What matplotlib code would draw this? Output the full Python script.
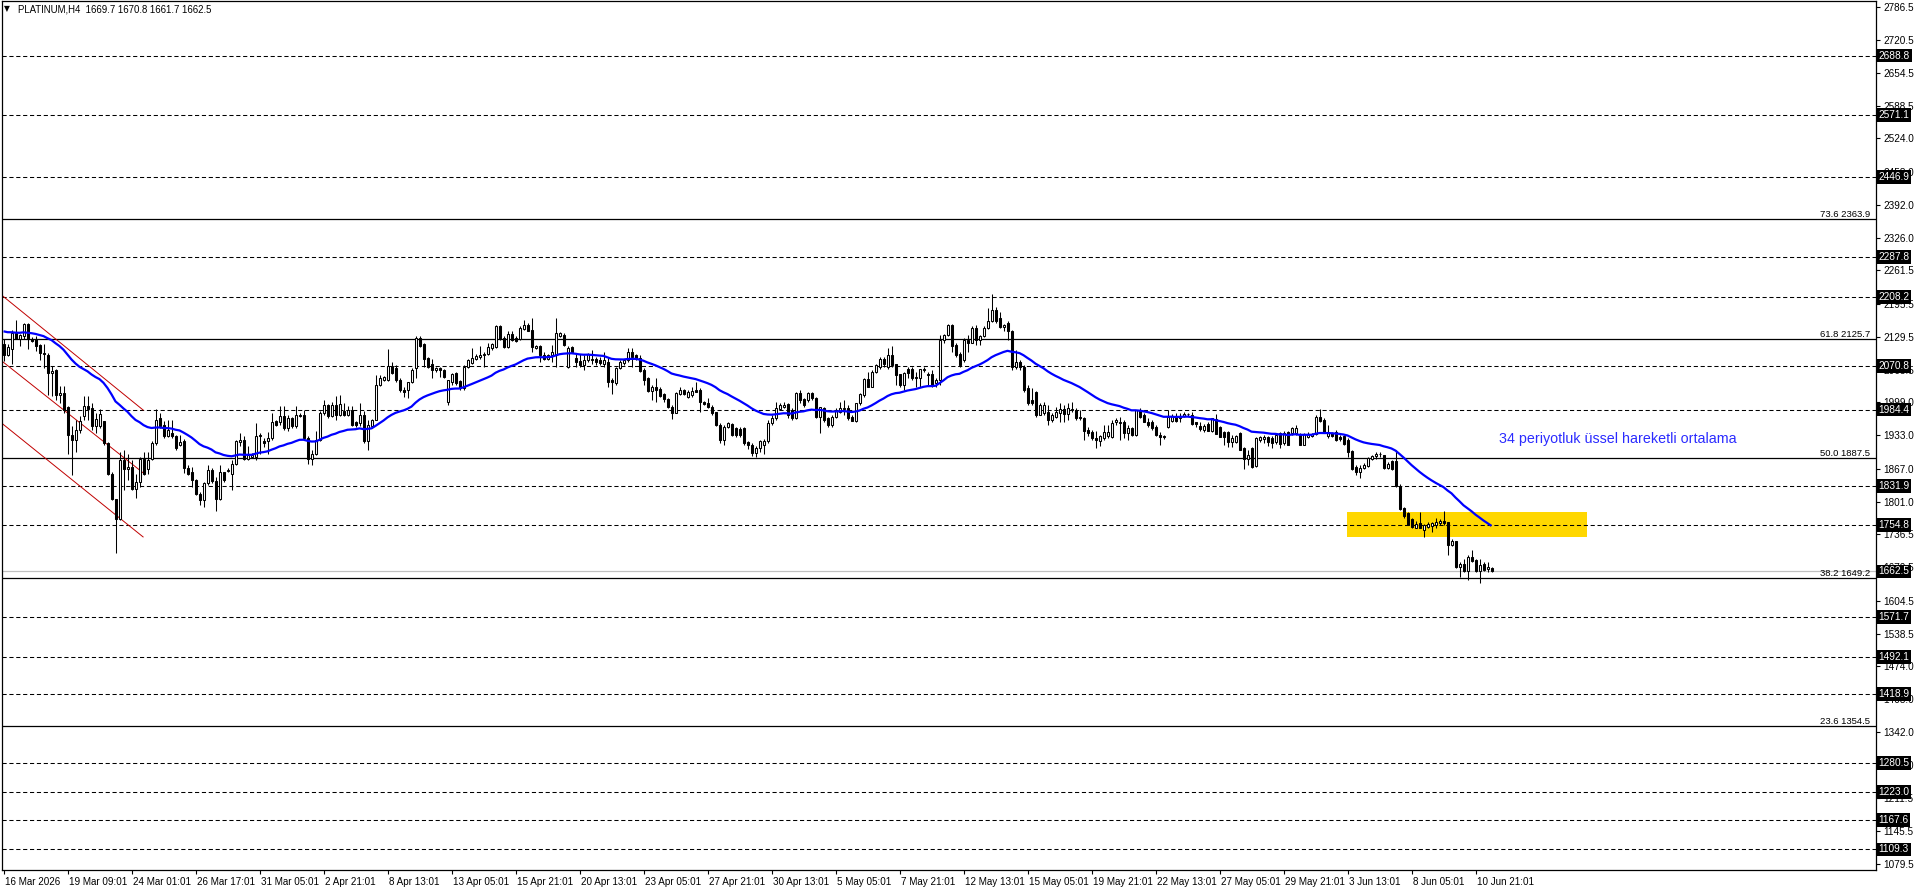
import numpy as np
import pandas as pd
import matplotlib
matplotlib.use("Agg")
import matplotlib.pyplot as plt
import matplotlib.transforms as mtransforms

# ---------------- data ----------------
opens = [
    2114,2094,2104,2136,2125,2131,2154,2125,2124,2112,
    2097,2094,2057,2063,2014,2017,1989,1934,1924,1944,
    1971,1991,1987,1952,1951,1961,1917,1857,1807,1767,
    1884,1866,1871,1827,1841,1886,1867,1886,1917,1967,
    1954,1931,1937,1932,1914,1921,1869,1861,1844,1817,
    1804,1839,1865,1843,1807,1861,1863,1857,1876,1919,
    1924,1887,1891,1891,1931,1921,1921,1927,1961,1959,
    1972,1947,1967,1951,1974,1974,1927,1887,1897,1924,
    1977,1994,1971,1994,1974,1981,1974,1984,1959,1957,
    1974,1921,1951,1964,2034,2044,2044,2071,2068,2044,
    2023,2023,2039,2067,2126,2114,2088,2076,2063,2067,
    2063,2000,2040,2057,2041,2027,2070,2078,2086,2090,
    2093,2096,2106,2108,2151,2126,2108,2134,2126,2125,
    2145,2153,2143,2106,2110,2093,2086,2093,2093,2130,
    2133,2070,2108,2088,2081,2073,2083,2083,2085,2083,
    2076,2080,2043,2037,2068,2078,2083,2100,2093,2088,
    2063,2048,2021,2030,2025,2015,2006,1990,1977,2015,
    2023,2010,2014,2023,2023,2000,1997,1990,1979,1954,
    1924,1950,1955,1948,1946,1948,1919,1914,1898,1908,
    1914,1921,1957,1967,1986,1990,1995,1984,1967,2017,
    2006,2004,2017,2007,1970,1988,1967,1954,1970,1980,
    1985,1988,1970,1962,1997,2013,2045,2030,2059,2070,
    2085,2070,2094,2075,2055,2033,2066,2066,2047,2047,
    2063,2056,2056,2037,2043,2123,2133,2152,2113,2096,
    2083,2123,2116,2146,2123,2130,2146,2160,2183,2166,
    2148,2156,2140,2070,2080,2070,2027,2004,2020,1974,
    1977,1980,1964,1970,1977,1985,1975,1983,1984,1970,
    1967,1944,1940,1927,1922,1927,1931,1929,1960,1957,
    1960,1937,1947,1934,1984,1974,1960,1960,1950,1934,
    1932,1949,1962,1972,1968,1972,1975,1974,1960,1952,
    1944,1955,1942,1966,1950,1940,1940,1919,1920,1937,
    1907,1887,1907,1873,1924,1926,1929,1927,1920,1937,
    1917,1940,1937,1937,1935,1914,1930,1932,1935,1970,
    1964,1932,1937,1939,1930,1932,1924,1902,1871,1860,
    1869,1873,1887,1893,1897,1894,1869,1882,1882,1833,
    1789,1778,1767,1749,1758,1745,1751,1753,1755,1758,
    1763,1760,1714,1722,1672,1678,1663,1692,1685,1663,
    1678,1667,1669.7,
]
highs = [
    2124,2114,2143,2162,2134,2157,2157,2128,2131,2115,
    2114,2097,2071,2066,2031,2031,1991,1951,1964,1971,
    2011,2011,1997,1977,1985,1962,1919,1861,1807,1901,
    1904,1897,1884,1857,1891,1901,1901,1921,1985,1977,
    1961,1964,1964,1934,1934,1926,1874,1871,1847,1821,
    1841,1874,1868,1850,1874,1861,1868,1884,1924,1937,
    1931,1911,1898,1957,1937,1927,1939,1977,1964,1991,
    1991,1974,1970,1991,1977,1984,1931,1904,1941,1981,
    2004,1996,1999,2011,2014,1998,1991,1991,1962,1997,
    1981,1964,1966,2054,2054,2052,2104,2080,2074,2047,
    2030,2040,2067,2130,2130,2116,2090,2086,2070,2070,
    2065,2043,2057,2060,2043,2073,2086,2106,2096,2110,
    2100,2116,2116,2153,2153,2130,2140,2140,2130,2150,
    2163,2156,2166,2112,2113,2100,2096,2113,2166,2138,
    2136,2110,2110,2096,2096,2093,2098,2103,2090,2090,
    2100,2090,2047,2070,2083,2086,2106,2106,2096,2093,
    2067,2050,2033,2047,2030,2017,2007,1994,2020,2030,
    2025,2023,2030,2039,2027,2002,2007,1994,1980,1957,
    1954,1960,1957,1950,1950,1950,1922,1918,1912,1924,
    1925,1964,1973,2000,1997,2000,1997,1987,2020,2023,
    2007,2020,2020,2010,1990,1990,1970,1974,1987,1999,
    2004,1994,1974,1998,2017,2047,2060,2063,2076,2090,
    2090,2106,2110,2076,2056,2060,2070,2070,2060,2066,
    2070,2060,2063,2047,2133,2135,2155,2155,2116,2100,
    2126,2133,2150,2153,2133,2150,2186,2214,2189,2179,
    2155,2160,2143,2103,2083,2073,2033,2027,2021,1997,
    2000,1994,1977,1990,1997,1994,1997,2000,1987,1984,
    1970,1950,1944,1942,1934,1954,1954,1964,1967,1970,
    1964,1954,1950,1984,1987,1977,1967,1964,1954,1940,
    1934,1984,1975,1977,1977,1980,1978,1979,1960,1960,
    1955,1960,1968,1975,1952,1942,1942,1934,1934,1940,
    1909,1904,1909,1929,1931,1934,1931,1931,1937,1939,
    1941,1942,1950,1954,1937,1937,1939,1937,1974,1986,
    1967,1954,1940,1944,1934,1934,1927,1904,1874,1874,
    1878,1891,1895,1901,1901,1895,1881,1884,1904,1836,
    1791,1781,1768,1763,1781,1756,1761,1761,1768,1767,
    1783,1761,1727,1723,1682,1688,1695,1705,1688,1688,
    1682,1681,1670.8,
]
lows = [
    2081,2091,2076,2124,2111,2124,2104,2118,2101,2084,
    2067,2014,2011,2004,1997,1977,1897,1854,1901,1937,
    1964,1964,1944,1937,1947,1914,1854,1804,1699,1764,
    1824,1844,1824,1809,1831,1854,1857,1884,1914,1947,
    1927,1929,1927,1904,1911,1859,1854,1831,1814,1794,
    1791,1834,1839,1783,1804,1841,1860,1824,1874,1911,
    1884,1884,1888,1884,1897,1909,1897,1924,1951,1954,
    1944,1941,1947,1947,1969,1924,1877,1874,1894,1921,
    1974,1968,1969,1964,1971,1972,1971,1951,1950,1951,
    1917,1904,1948,1964,2031,2041,2041,2055,2040,2020,
    2010,2007,2037,2047,2108,2070,2067,2047,2060,2050,
    2047,1994,2033,2033,2023,2023,2067,2076,2083,2086,
    2070,2093,2103,2106,2123,2106,2106,2120,2118,2123,
    2143,2140,2100,2104,2080,2083,2083,2080,2070,2128,
    2110,2068,2098,2070,2070,2063,2080,2076,2073,2073,
    2070,2030,2015,2033,2066,2073,2080,2070,2083,2060,
    2033,2019,2004,2000,2010,1999,1987,1966,1977,2013,
    2013,2007,2010,2019,1980,1993,1987,1974,1952,1917,
    1914,1948,1931,1930,1930,1914,1905,1893,1890,1900,
    1896,1918,1954,1964,1983,1987,1967,1964,1966,1997,
    1990,2000,2004,1967,1937,1960,1950,1950,1967,1977,
    1974,1964,1962,1960,1994,2010,2030,2030,2057,2066,
    2070,2066,2070,2033,2030,2023,2047,2043,2030,2030,
    2059,2033,2030,2030,2033,2117,2130,2100,2090,2070,
    2080,2100,2116,2113,2113,2128,2144,2158,2156,2146,
    2140,2122,2063,2066,2063,2020,1994,1994,1970,1974,
    1974,1954,1960,1967,1960,1960,1964,1980,1964,1964,
    1924,1931,1924,1907,1911,1924,1927,1927,1954,1924,
    1927,1924,1931,1931,1967,1960,1950,1943,1931,1913,
    1926,1947,1960,1960,1960,1970,1972,1954,1950,1942,
    1940,1941,1940,1935,1929,1914,1910,1910,1917,1904,
    1866,1874,1868,1871,1920,1917,1911,1907,1915,1907,
    1914,1913,1934,1934,1913,1913,1927,1930,1934,1960,
    1937,1927,1930,1921,1922,1914,1891,1864,1854,1849,
    1866,1871,1884,1887,1891,1867,1866,1864,1831,1785,
    1768,1754,1748,1748,1748,1731,1748,1741,1748,1755,
    1755,1695,1712,1670,1652,1662,1645,1682,1662,1639,
    1663,1662,1661.7,
]
closes = [
    2094,2109,2136,2125,2132,2154,2124,2121,2111,2097,
    2095,2057,2061,2014,2017,1984,1934,1924,1944,1961,
    1991,1986,1951,1965,1976,1917,1857,1807,1767,1884,
    1866,1871,1827,1841,1886,1857,1885,1917,1964,1951,
    1931,1944,1931,1907,1919,1869,1857,1844,1817,1804,
    1839,1865,1843,1807,1861,1844,1865,1876,1921,1924,
    1887,1894,1894,1932,1934,1917,1927,1959,1954,1972,
    1947,1967,1951,1974,1971,1927,1887,1897,1924,1977,
    1994,1971,1994,1974,1996,1974,1984,1954,1954,1974,
    1921,1954,1964,2034,2047,2049,2071,2057,2044,2024,
    2020,2039,2063,2126,2110,2086,2070,2063,2067,2063,
    2050,2043,2055,2037,2027,2070,2083,2088,2092,2094,
    2096,2108,2114,2151,2125,2108,2134,2123,2121,2146,
    2153,2141,2108,2110,2093,2086,2093,2100,2136,2136,
    2113,2106,2100,2080,2073,2083,2096,2086,2080,2078,
    2083,2040,2039,2068,2080,2083,2100,2090,2086,2061,
    2043,2021,2030,2023,2012,2006,1990,1977,2017,2023,
    2015,2019,2021,2019,1999,1995,1990,1977,1954,1924,
    1950,1957,1934,1934,1933,1917,1914,1898,1908,1921,
    1921,1957,1968,1987,1994,1994,1974,1967,2017,2004,
    1994,2017,2007,1970,1990,1964,1954,1970,1984,1987,
    1988,1967,1962,1997,2015,2045,2030,2059,2073,2085,
    2075,2094,2073,2053,2033,2057,2057,2047,2050,2065,
    2066,2053,2033,2043,2123,2133,2152,2110,2093,2073,
    2123,2116,2146,2123,2130,2146,2160,2183,2160,2148,
    2152,2140,2070,2080,2070,2023,1997,1997,1974,1994,
    1993,1964,1974,1980,1985,1975,1987,1985,1967,1967,
    1942,1937,1927,1924,1931,1940,1940,1957,1964,1960,
    1937,1947,1934,1984,1970,1960,1954,1947,1934,1930,
    1930,1970,1972,1962,1972,1975,1975,1955,1955,1946,
    1952,1942,1967,1935,1930,1930,1919,1927,1931,1904,
    1887,1894,1871,1927,1929,1929,1919,1917,1934,1915,
    1937,1914,1948,1948,1914,1935,1935,1935,1970,1962,
    1937,1937,1932,1924,1926,1915,1901,1866,1861,1869,
    1874,1889,1893,1897,1897,1869,1877,1867,1833,1787,
    1773,1755,1751,1756,1749,1754,1756,1758,1760,1763,
    1758,1714,1723,1672,1678,1663,1692,1683,1663,1676,
    1665,1672,1662.5,
]
ema_period = 34
ema_seed = 2143.0

xtick_bars = [0, 16, 32, 48, 64, 80, 96, 112, 128, 144, 160, 176,
              192, 208, 224, 240, 256, 272, 288, 304, 320, 336, 352, 368]
xtick_labels = ["16 Mar 2026", "19 Mar 09:01", "24 Mar 01:01", "26 Mar 17:01",
                "31 Mar 05:01", "2 Apr 21:01", "8 Apr 13:01", "13 Apr 05:01",
                "15 Apr 21:01", "20 Apr 13:01", "23 Apr 05:01", "27 Apr 21:01",
                "30 Apr 13:01", "5 May 05:01", "7 May 21:01", "12 May 13:01",
                "15 May 05:01", "19 May 21:01", "22 May 13:01", "27 May 05:01",
                "29 May 21:01", "3 Jun 13:01", "8 Jun 05:01", "10 Jun 21:01"]
ytick_values = [2786.5, 2720.5, 2654.5, 2588.5, 2524.0, 2458.0, 2392.0, 2326.0,
                2261.5, 2195.5, 2129.5, 2063.5, 1999.0, 1933.0, 1867.0, 1801.0,
                1736.5, 1670.5, 1604.5, 1538.5, 1474.0, 1408.0, 1342.0, 1277.0,
                1211.5, 1145.5, 1079.5]
dashed_levels = [2688.8, 2571.1, 2446.9, 2287.8, 2208.2, 2070.8, 1984.4, 1831.9,
                 1754.8, 1571.7, 1492.1, 1418.9, 1280.5, 1223.0, 1167.6, 1109.3]
fib_ratios = ["73.6", "61.8", "50.0", "38.2", "23.6"]
fib_levels = [2363.9, 2125.7, 1887.5, 1649.2, 1354.5]
current_price = 1662.5

channel_x = [-0.2, 34.9]
channel_upper = [2210.5, 1983.6]
channel_middle = [2079.7, 1858.6]
channel_lower = [1955.8, 1731.0]

zone_bars = [335.9, 395.9]
zone_prices = [1731.5, 1780.6]

title_text = "PLATINUM,H4  1669.7 1670.8 1661.7 1662.5"
ema_note = "34 periyotluk üssel hareketli ortalama"
ema_note_pos = [373.9, 1926.0]

# ---------------- figure ----------------
W, H = 1916, 888
DPI = 100
plt.rcParams['font.family'] = ['Liberation Sans', 'DejaVu Sans']
fig = plt.figure(figsize=(W / DPI, H / DPI), dpi=DPI, facecolor='white')
ax_l, ax_r, ax_t, ax_b = 2, 1876, 1, 870
ax = fig.add_axes([ax_l / W, (H - ax_b) / H, (ax_r - ax_l) / W, (ax_b - ax_t) / H])
ax.set_facecolor('white')

n = len(closes)
x = np.arange(n)
o = np.array(opens, float)
h = np.array(highs, float)
l = np.array(lows, float)
c = np.array(closes, float)
h = np.maximum(h, np.maximum(o, c))
l = np.minimum(l, np.minimum(o, c))

ax.set_xlim(-0.375, 468.125)
ax.set_ylim(1068.2, 2797.5)

# zone rectangle
ax.fill_between(zone_bars, zone_prices[0], zone_prices[1], color='#FFD700',
                linewidth=0, zorder=0.5)

# horizontal levels
for v in dashed_levels:
    ax.axhline(v, color='black', lw=0.75, ls=(0, (4, 2.6)), zorder=1)
for v in fib_levels:
    ax.axhline(v, color='black', lw=0.9, zorder=1)
ax.axhline(current_price, color='#C0C0C0', lw=0.9, zorder=1)

# channel
for ys in (channel_upper, channel_middle, channel_lower):
    ax.plot(channel_x, ys, color='#C00000', lw=0.7, zorder=2)

# candles
up = c >= o
ax.vlines(x, l, h, color='black', lw=0.75, zorder=3)
body_bottom = np.minimum(o, c)
body_h = np.abs(c - o)
ax.bar(x[up], body_h[up], bottom=body_bottom[up], width=0.5,
       facecolor='white', edgecolor='black', lw=0.75, zorder=3.2)
ax.bar(x[~up], body_h[~up], bottom=body_bottom[~up], width=0.5,
       facecolor='black', edgecolor='black', lw=0.75, zorder=3.2)

# EMA
ema = pd.Series([ema_seed] + list(c)).ewm(span=ema_period, adjust=False).mean().values[1:]
ax.plot(x, ema, color='#0000FF', lw=1.6, zorder=4, solid_capstyle='butt')

# EMA annotation
ax.text(ema_note_pos[0], ema_note_pos[1], ema_note, color='#2B2BFF', fontsize=10.3,
        ha='left', va='center', zorder=5)

# axes styling
for s in ax.spines.values():
    s.set_color('black')
    s.set_linewidth(0.9)
ax.yaxis.tick_right()
ax.set_yticks(ytick_values)
ax.set_yticklabels([f"{v:.1f}" for v in ytick_values])
ax.tick_params(axis='y', direction='out', length=3, width=0.8, pad=2,
               labelsize=7.2, colors='black')
ax.set_xticks(xtick_bars)
ax.set_xticklabels(xtick_labels)
ax.tick_params(axis='x', direction='out', length=3, width=0.8, pad=2,
               labelsize=7.1, colors='black')
offset = mtransforms.ScaledTranslation(1.5 / DPI, 0, fig.dpi_scale_trans)
for lab in ax.get_xticklabels():
    lab.set_horizontalalignment('left')
    lab.set_transform(lab.get_transform() + offset)

trans = mtransforms.blended_transform_factory(ax.transAxes, ax.transData)
# fib labels
for r, v in zip(fib_ratios, fib_levels):
    ax.text(1 - 6 / (ax_r - ax_l), v, f"{r} {v:.1f}", transform=trans,
            ha='right', va='bottom', fontsize=6.8, color='black', zorder=5)

# black price boxes on the right axis
for v in dashed_levels + [current_price]:
    ax.text(1 + 2.5 / (ax_r - ax_l), v, f"{v:.1f}", transform=trans,
            ha='left', va='center', fontsize=7.3, color='white', zorder=6,
            clip_on=False,
            bbox=dict(boxstyle='square,pad=0.18', fc='black', ec='none'))

# title
fig.text(4 / W, 1 - 9 / H, "▼", fontsize=5.5, family='DejaVu Sans',
         ha='left', va='center', color='black')
fig.text(18 / W, 1 - 9 / H, title_text, fontsize=6.9, ha='left', va='center',
         color='black')

fig.savefig('out.png', dpi=DPI, facecolor='white')
